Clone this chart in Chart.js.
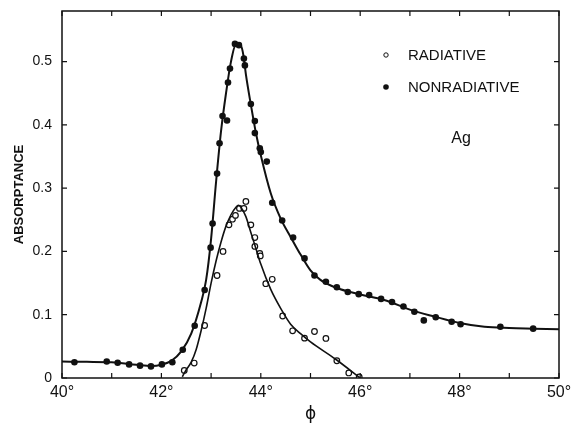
<!DOCTYPE html>
<html>
<head>
<meta charset="utf-8">
<script src="https://cdn.jsdelivr.net/npm/chart.js@4.4.0/dist/chart.umd.min.js"></script>
<style>
  html, body { margin: 0; padding: 0; background: #fff; }
</style>
</head>
<body>
<canvas id="chart" width="574" height="425"></canvas>
<script>
const phiNonrad = [40.25, 40.90, 41.12, 41.35, 41.57, 41.79, 42.01, 42.22, 42.43, 42.67, 42.87, 42.99, 43.03,
  43.12, 43.17, 43.23, 43.32, 43.34, 43.38, 43.48, 43.56, 43.66, 43.68, 43.80, 43.88, 43.88, 43.98, 44.00,
  44.12, 44.23, 44.43, 44.65, 44.88, 45.08, 45.31, 45.53, 45.75, 45.97, 46.18, 46.42, 46.64, 46.87, 47.09,
  47.28, 47.52, 47.84, 48.02, 48.82, 49.48];
const absNonrad = [0.025, 0.026, 0.024, 0.0215, 0.0195, 0.0183, 0.0215, 0.025, 0.0446, 0.0825, 0.139, 0.206, 0.244,
  0.323, 0.371, 0.414, 0.407, 0.467, 0.489, 0.528, 0.526, 0.505, 0.494, 0.433, 0.406, 0.387, 0.363, 0.357,
  0.342, 0.277, 0.249, 0.222, 0.189, 0.162, 0.152, 0.1435, 0.136, 0.1325, 0.131, 0.125, 0.120, 0.113, 0.1046,
  0.091, 0.096, 0.089, 0.085, 0.081, 0.078];

const phiRad = [42.46, 42.66, 42.87, 43.12, 43.24, 43.36, 43.43, 43.49, 43.57, 43.66, 43.70, 43.80, 43.88, 43.88,
  43.98, 43.99, 44.10, 44.23, 44.44, 44.64, 44.88, 45.08, 45.31, 45.53, 45.77, 45.98];
const absRad = [0.012, 0.0236, 0.083, 0.162, 0.200, 0.242, 0.251, 0.257, 0.268, 0.268, 0.279, 0.242, 0.222, 0.208,
  0.197, 0.193, 0.149, 0.156, 0.098, 0.0746, 0.063, 0.0735, 0.0625, 0.0273, 0.008, 0.0016];

// drawn fit curves
const curvePhiNonrad = [40.0, 40.5, 41.0, 41.5, 41.8, 42.0, 42.2, 42.4, 42.6, 42.8, 42.9, 43.0, 43.1, 43.2, 43.3,
  43.4, 43.5, 43.6, 43.65, 43.7, 43.8, 43.9, 44.0, 44.2, 44.4, 44.6, 44.8, 45.0, 45.2, 45.5, 46.0, 46.5, 47.0,
  47.5, 48.0, 48.5, 49.0, 49.5, 50.0];
const curveAbsNonrad = [0.026, 0.0255, 0.025, 0.021, 0.019, 0.021, 0.027, 0.042, 0.07, 0.12, 0.155, 0.22, 0.31, 0.39,
  0.45, 0.50, 0.527, 0.525, 0.51, 0.48, 0.432, 0.388, 0.352, 0.292, 0.252, 0.223, 0.195, 0.170, 0.155, 0.143,
  0.132, 0.123, 0.108, 0.097, 0.087, 0.081, 0.079, 0.078, 0.077];

const curvePhiRad = [42.42, 42.5, 42.6, 42.7, 42.8, 42.9, 43.0, 43.1, 43.2, 43.3, 43.4, 43.5, 43.55, 43.6, 43.7,
  43.8, 43.9, 44.0, 44.2, 44.4, 44.6, 44.8, 45.0, 45.5, 46.0];
const curveAbsRad = [0.002, 0.013, 0.025, 0.045, 0.075, 0.11, 0.15, 0.185, 0.215, 0.24, 0.258, 0.27, 0.273, 0.27,
  0.255, 0.23, 0.205, 0.18, 0.14, 0.11, 0.085, 0.07, 0.057, 0.03, 0.0];

const xTicks = [40, 41, 42, 43, 44, 45, 46, 47, 48, 49, 50];
const yTicks = [0, 0.1, 0.2, 0.3, 0.4, 0.5];

const pts = (xs, ys) => xs.map((x, i) => ({ x: x, y: ys[i] }));

const FONT = '"Liberation Sans", Arial, sans-serif';

// frame, inward ticks, legend and the Ag label
const decorations = {
  id: 'decorations',
  afterDraw(chart) {
    const ctx = chart.ctx;
    const a = chart.chartArea;
    const xs = chart.scales.x;
    const ys = chart.scales.y;
    ctx.save();
    ctx.strokeStyle = '#111';
    ctx.lineWidth = 1.5;
    ctx.strokeRect(a.left, a.top, a.right - a.left, a.bottom - a.top);

    ctx.lineWidth = 1.2;
    ctx.beginPath();
    xTicks.forEach(v => {
      const px = xs.getPixelForValue(v);
      ctx.moveTo(px, a.bottom); ctx.lineTo(px, a.bottom - 5);
      ctx.moveTo(px, a.top); ctx.lineTo(px, a.top + 5);
    });
    yTicks.forEach(v => {
      const py = ys.getPixelForValue(v);
      ctx.moveTo(a.left, py); ctx.lineTo(a.left + 5, py);
      ctx.moveTo(a.right, py); ctx.lineTo(a.right - 5, py);
    });
    ctx.stroke();

    // legend
    ctx.fillStyle = '#111';
    ctx.font = '15px ' + FONT;
    ctx.textBaseline = 'middle';
    ctx.textAlign = 'left';
    ctx.beginPath();
    ctx.arc(386, 55, 2.2, 0, Math.PI * 2);
    ctx.lineWidth = 1;
    ctx.stroke();
    ctx.fillText('RADIATIVE', 408, 56);
    ctx.beginPath();
    ctx.arc(386, 87, 2.8, 0, Math.PI * 2);
    ctx.fill();
    ctx.fillText('NONRADIATIVE', 408, 88);

    ctx.font = '16px ' + FONT;
    ctx.textAlign = 'center';
    ctx.fillText('Ag', 461, 139);
    ctx.restore();
  }
};

new Chart(document.getElementById('chart'), {
  type: 'scatter',
  data: {
    datasets: [
      {
        label: 'NONRADIATIVE fit',
        type: 'line',
        data: pts(curvePhiNonrad, curveAbsNonrad),
        borderColor: '#111',
        borderWidth: 2,
        pointRadius: 0,
        cubicInterpolationMode: 'monotone',
        fill: false
      },
      {
        label: 'RADIATIVE fit',
        type: 'line',
        data: pts(curvePhiRad, curveAbsRad),
        borderColor: '#111',
        borderWidth: 1.6,
        pointRadius: 0,
        cubicInterpolationMode: 'monotone',
        fill: false
      },
      {
        label: 'NONRADIATIVE',
        data: pts(phiNonrad, absNonrad),
        pointRadius: 3.3,
        pointBackgroundColor: '#111',
        pointBorderColor: '#111',
        pointBorderWidth: 0
      },
      {
        label: 'RADIATIVE',
        data: pts(phiRad, absRad),
        pointRadius: 2.8,
        pointBackgroundColor: '#fff',
        pointBorderColor: '#111',
        pointBorderWidth: 1.2
      }
    ]
  },
  options: {
    responsive: false,
    animation: false,
    layout: { padding: { top: 11, right: 15, left: 0, bottom: 0 } },
    plugins: {
      legend: { display: false },
      tooltip: { enabled: false }
    },
    scales: {
      x: {
        type: 'linear',
        min: 40,
        max: 50,
        afterFit: (s) => { s.height = 47; s.paddingLeft = 0; s.paddingRight = 0; },
        grid: { drawOnChartArea: false, drawTicks: false },
        border: { display: false },
        ticks: {
          stepSize: 1,
          padding: 5,
          maxRotation: 0,
          autoSkip: false,
          color: '#111',
          font: { family: FONT, size: 16 },
          callback: (v) => (v % 2 === 0 ? v + '°' : '')
        },
        title: {
          display: true,
          text: 'ϕ',
          color: '#111',
          font: { family: '"DejaVu Sans"', size: 17 },
          padding: { top: 0, bottom: 0 }
        }
      },
      y: {
        min: 0,
        max: 0.58,
        afterFit: (s) => { s.width = 62; s.paddingTop = 0; s.paddingBottom = 0; },
        grid: { drawOnChartArea: false, drawTicks: false },
        border: { display: false },
        ticks: {
          stepSize: 0.1,
          padding: 10,
          color: '#111',
          font: { family: FONT, size: 14 },
          callback: (v) => (v > 0.55 ? '' : (v === 0 ? '0' : v.toFixed(1)))
        },
        title: {
          display: true,
          text: 'ABSORPTANCE',
          color: '#111',
          font: { family: FONT, size: 13, weight: 'bold' },
          padding: { top: 12, bottom: 4 }
        }
      }
    }
  },
  plugins: [decorations]
});
</script>
</body>
</html>
